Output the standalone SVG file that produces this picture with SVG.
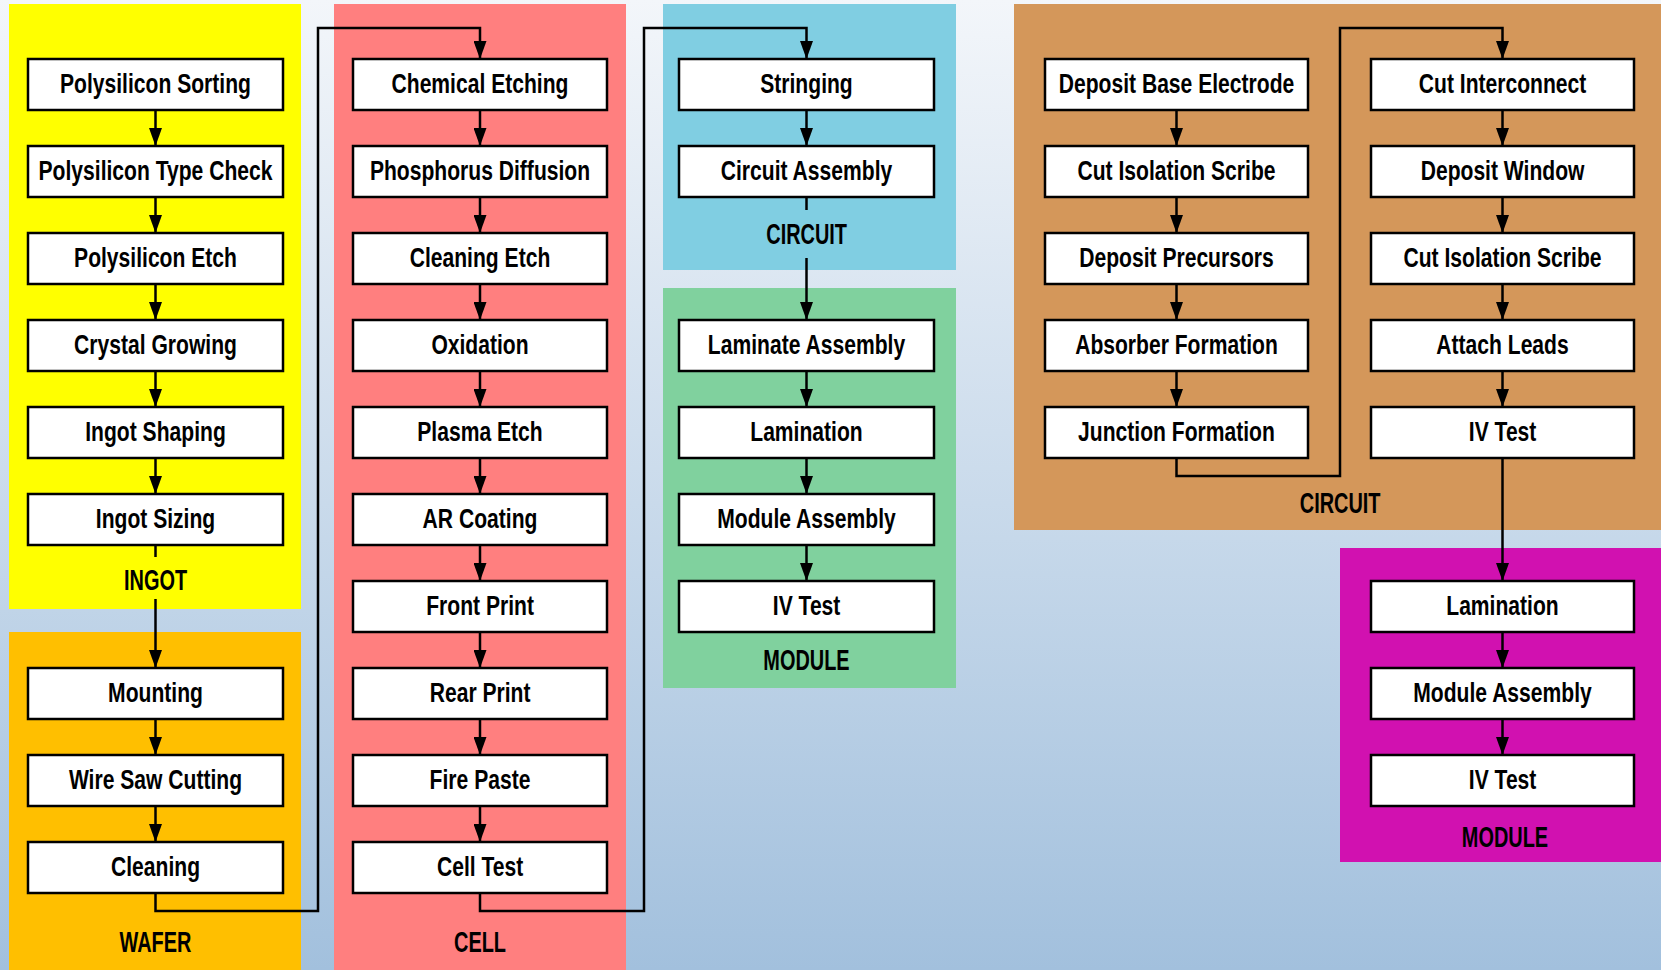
<svg xmlns="http://www.w3.org/2000/svg" width="1661" height="970" viewBox="0 0 1661 970">
<defs>
<linearGradient id="bg" x1="0" y1="0" x2="0" y2="1">
<stop offset="0" stop-color="#f3f6fa"/>
<stop offset="1" stop-color="#a2c0dd"/>
</linearGradient>
<marker id="ah" markerUnits="userSpaceOnUse" viewBox="0 0 18 13" refX="18" refY="6.5" markerWidth="18" markerHeight="13" orient="auto">
<path d="M0,0 L18,6.5 L0,13 z" fill="#000"/>
</marker>
<style>
.box{fill:#fff;stroke:#000;stroke-width:2.5}
.t,.lbl{font-family:"Liberation Sans",Arial,sans-serif;font-weight:bold;fill:#000;text-anchor:middle;transform-box:fill-box;transform-origin:center}
.t{font-size:28.5px;transform:scaleX(0.74)}
.lbl{font-size:29.5px;transform:scaleX(0.675)}
.c{fill:none;stroke:#000;stroke-width:2.5}
.a{marker-end:url(#ah)}
</style>
</defs>
<rect x="0" y="0" width="1661" height="970" fill="url(#bg)"/>

<g id="panels">
<rect id="p-ingot" x="9" y="4" width="292" height="605" fill="#ffff00"/>
<rect id="p-wafer" x="9" y="632" width="292" height="338" fill="#ffbf00"/>
<rect id="p-cell" x="334" y="4" width="292" height="966" fill="#ff7f7f"/>
<rect id="p-circuit1" x="663" y="4" width="293" height="266" fill="#80cee2"/>
<rect id="p-module1" x="663" y="288" width="293" height="400" fill="#80d19e"/>
<rect id="p-circuit2" x="1014" y="4" width="647" height="526" fill="#d4975a"/>
<rect id="p-module2" x="1340" y="548" width="321" height="314" fill="#d111b0"/>
</g>

<g id="labels">
<text class="lbl" x="155.5" y="590">INGOT</text>
<text class="lbl" x="155.5" y="952">WAFER</text>
<text class="lbl" x="480" y="952">CELL</text>
<text class="lbl" x="806.5" y="244">CIRCUIT</text>
<text class="lbl" x="806.5" y="670">MODULE</text>
<text class="lbl" x="1340" y="513">CIRCUIT</text>
<text class="lbl" x="1505" y="847">MODULE</text>
</g>

<g id="connectors">
<path class="c a" d="M155.5 110 V146"/>
<path class="c a" d="M155.5 197 V233"/>
<path class="c a" d="M155.5 284 V320"/>
<path class="c a" d="M155.5 371 V407"/>
<path class="c a" d="M155.5 458 V494"/>
<path class="c" d="M155.5 545 V557"/>
<path class="c a" d="M155.5 599 V668"/>
<path class="c a" d="M155.5 719 V755"/>
<path class="c a" d="M155.5 806 V842"/>
<path class="c a" d="M155.5 893 V911 H318 V28 H480 V59"/>
<path class="c a" d="M480 110 V146"/>
<path class="c a" d="M480 197 V233"/>
<path class="c a" d="M480 284 V320"/>
<path class="c a" d="M480 371 V407"/>
<path class="c a" d="M480 458 V494"/>
<path class="c a" d="M480 545 V581"/>
<path class="c a" d="M480 632 V668"/>
<path class="c a" d="M480 719 V755"/>
<path class="c a" d="M480 806 V842"/>
<path class="c a" d="M480 893 V911 H644 V28 H806.5 V59"/>
<path class="c a" d="M806.5 110 V146"/>
<path class="c" d="M806.5 197 V210"/>
<path class="c a" d="M806.5 258 V320"/>
<path class="c a" d="M806.5 371 V407"/>
<path class="c a" d="M806.5 458 V494"/>
<path class="c a" d="M806.5 545 V581"/>
<path class="c a" d="M1176.5 110 V146"/>
<path class="c a" d="M1176.5 197 V233"/>
<path class="c a" d="M1176.5 284 V320"/>
<path class="c a" d="M1176.5 371 V407"/>
<path class="c a" d="M1176.5 458 V476 H1340 V28 H1502.5 V59"/>
<path class="c a" d="M1502.5 110 V146"/>
<path class="c a" d="M1502.5 197 V233"/>
<path class="c a" d="M1502.5 284 V320"/>
<path class="c a" d="M1502.5 371 V407"/>
<path class="c a" d="M1502.5 458 V581"/>
<path class="c a" d="M1502.5 632 V668"/>
<path class="c a" d="M1502.5 719 V755"/>
</g>

<g id="n-polysilicon-sorting"><rect class="box" x="28" y="59" width="255" height="51"/><text class="t" x="155.5" y="93">Polysilicon Sorting</text></g>
<g id="n-polysilicon-type-check"><rect class="box" x="28" y="146" width="255" height="51"/><text class="t" x="155.5" y="180">Polysilicon Type Check</text></g>
<g id="n-polysilicon-etch"><rect class="box" x="28" y="233" width="255" height="51"/><text class="t" x="155.5" y="267">Polysilicon Etch</text></g>
<g id="n-crystal-growing"><rect class="box" x="28" y="320" width="255" height="51"/><text class="t" x="155.5" y="354">Crystal Growing</text></g>
<g id="n-ingot-shaping"><rect class="box" x="28" y="407" width="255" height="51"/><text class="t" x="155.5" y="441">Ingot Shaping</text></g>
<g id="n-ingot-sizing"><rect class="box" x="28" y="494" width="255" height="51"/><text class="t" x="155.5" y="528">Ingot Sizing</text></g>
<g id="n-mounting"><rect class="box" x="28" y="668" width="255" height="51"/><text class="t" x="155.5" y="702">Mounting</text></g>
<g id="n-wire-saw-cutting"><rect class="box" x="28" y="755" width="255" height="51"/><text class="t" x="155.5" y="789">Wire Saw Cutting</text></g>
<g id="n-cleaning"><rect class="box" x="28" y="842" width="255" height="51"/><text class="t" x="155.5" y="876">Cleaning</text></g>

<g id="n-chemical-etching"><rect class="box" x="353" y="59" width="254" height="51"/><text class="t" x="480" y="93">Chemical Etching</text></g>
<g id="n-phosphorus-diffusion"><rect class="box" x="353" y="146" width="254" height="51"/><text class="t" x="480" y="180">Phosphorus Diffusion</text></g>
<g id="n-cleaning-etch"><rect class="box" x="353" y="233" width="254" height="51"/><text class="t" x="480" y="267">Cleaning Etch</text></g>
<g id="n-oxidation"><rect class="box" x="353" y="320" width="254" height="51"/><text class="t" x="480" y="354">Oxidation</text></g>
<g id="n-plasma-etch"><rect class="box" x="353" y="407" width="254" height="51"/><text class="t" x="480" y="441">Plasma Etch</text></g>
<g id="n-ar-coating"><rect class="box" x="353" y="494" width="254" height="51"/><text class="t" x="480" y="528">AR Coating</text></g>
<g id="n-front-print"><rect class="box" x="353" y="581" width="254" height="51"/><text class="t" x="480" y="615">Front Print</text></g>
<g id="n-rear-print"><rect class="box" x="353" y="668" width="254" height="51"/><text class="t" x="480" y="702">Rear Print</text></g>
<g id="n-fire-paste"><rect class="box" x="353" y="755" width="254" height="51"/><text class="t" x="480" y="789">Fire Paste</text></g>
<g id="n-cell-test"><rect class="box" x="353" y="842" width="254" height="51"/><text class="t" x="480" y="876">Cell Test</text></g>

<g id="n-stringing"><rect class="box" x="679" y="59" width="255" height="51"/><text class="t" x="806.5" y="93">Stringing</text></g>
<g id="n-circuit-assembly"><rect class="box" x="679" y="146" width="255" height="51"/><text class="t" x="806.5" y="180">Circuit Assembly</text></g>
<g id="n-laminate-assembly"><rect class="box" x="679" y="320" width="255" height="51"/><text class="t" x="806.5" y="354">Laminate Assembly</text></g>
<g id="n-lamination-1"><rect class="box" x="679" y="407" width="255" height="51"/><text class="t" x="806.5" y="441">Lamination</text></g>
<g id="n-module-assembly-1"><rect class="box" x="679" y="494" width="255" height="51"/><text class="t" x="806.5" y="528">Module Assembly</text></g>
<g id="n-iv-test-1"><rect class="box" x="679" y="581" width="255" height="51"/><text class="t" x="806.5" y="615">IV Test</text></g>

<g id="n-deposit-base-electrode"><rect class="box" x="1045" y="59" width="263" height="51"/><text class="t" x="1176.5" y="93">Deposit Base Electrode</text></g>
<g id="n-cut-isolation-scribe-1"><rect class="box" x="1045" y="146" width="263" height="51"/><text class="t" x="1176.5" y="180">Cut Isolation Scribe</text></g>
<g id="n-deposit-precursors"><rect class="box" x="1045" y="233" width="263" height="51"/><text class="t" x="1176.5" y="267">Deposit Precursors</text></g>
<g id="n-absorber-formation"><rect class="box" x="1045" y="320" width="263" height="51"/><text class="t" x="1176.5" y="354">Absorber Formation</text></g>
<g id="n-junction-formation"><rect class="box" x="1045" y="407" width="263" height="51"/><text class="t" x="1176.5" y="441">Junction Formation</text></g>

<g id="n-cut-interconnect"><rect class="box" x="1371" y="59" width="263" height="51"/><text class="t" x="1502.5" y="93">Cut Interconnect</text></g>
<g id="n-deposit-window"><rect class="box" x="1371" y="146" width="263" height="51"/><text class="t" x="1502.5" y="180">Deposit Window</text></g>
<g id="n-cut-isolation-scribe-2"><rect class="box" x="1371" y="233" width="263" height="51"/><text class="t" x="1502.5" y="267">Cut Isolation Scribe</text></g>
<g id="n-attach-leads"><rect class="box" x="1371" y="320" width="263" height="51"/><text class="t" x="1502.5" y="354">Attach Leads</text></g>
<g id="n-iv-test-2"><rect class="box" x="1371" y="407" width="263" height="51"/><text class="t" x="1502.5" y="441">IV Test</text></g>

<g id="n-lamination-2"><rect class="box" x="1371" y="581" width="263" height="51"/><text class="t" x="1502.5" y="615">Lamination</text></g>
<g id="n-module-assembly-2"><rect class="box" x="1371" y="668" width="263" height="51"/><text class="t" x="1502.5" y="702">Module Assembly</text></g>
<g id="n-iv-test-3"><rect class="box" x="1371" y="755" width="263" height="51"/><text class="t" x="1502.5" y="789">IV Test</text></g>
</svg>
